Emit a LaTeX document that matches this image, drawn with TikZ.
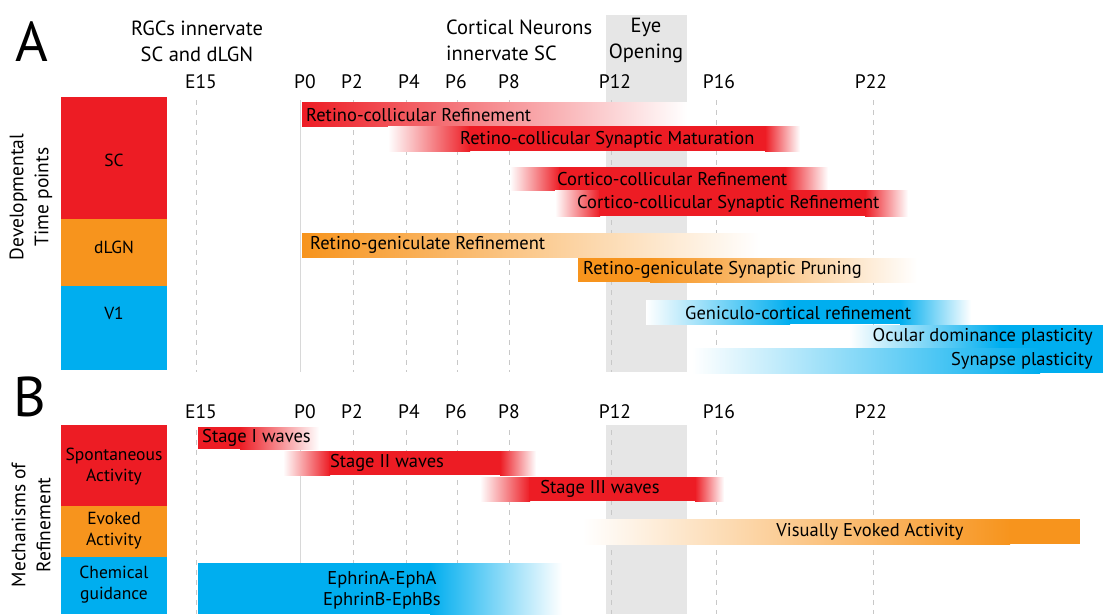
\documentclass[tikz,border=0pt]{standalone}
\usepackage{fontspec}
\setmainfont{PT Sans}
\usetikzlibrary{positioning}

\definecolor{scrot}{HTML}{ED1C24}
\definecolor{lgnorange}{HTML}{F7941D}
\definecolor{vblau}{HTML}{00AEEF}
\definecolor{augengrau}{HTML}{E6E6E6}
\definecolor{rastergrau}{HTML}{C8C8C8}

% Balkenstuecke: x1, x2, y1, y2, Farbe
\newcommand{\einblenden}[5]{\shade [left color=white, right color=#5] (#1,#3) rectangle (#2,#4);}
\newcommand{\ausblenden}[5]{\shade [left color=#5, right color=white] (#1,#3) rectangle (#2,#4);}
\newcommand{\voll}[5]{\fill [#5] (#1,#3) rectangle (#2,#4);}

\tikzset{
  raster/.style={rastergrau, line width=0.8pt, dash pattern=on 5pt off 5pt},
  nullinie/.style={rastergrau!70, line width=0.8pt},
  balkentext/.style={font=\fontsize{18.5}{21}\selectfont, inner sep=0pt},
  tagtext/.style={font=\fontsize{19.5}{22}\selectfont, inner sep=0pt},
  kopftext/.style={font=\fontsize{20.5}{26}\selectfont, inner sep=0pt, align=center},
  kastentext/.style={font=\fontsize{17.5}{21}\selectfont, inner sep=0pt, align=center},
  seitentext/.style={font=\fontsize{19.5}{25}\selectfont, inner sep=0pt, align=center, rotate=90},
  buchstabe/.style={font=\fontsize{56}{56}\selectfont, inner sep=0pt}
}

\begin{document}
\begin{tikzpicture}[x=1pt, y=-1pt]
\useasboundingbox (0,0) rectangle (1103,614);
% Augenoeffnung
\fill [augengrau] (606,15) rectangle (687,372);
\fill [augengrau] (606,425) rectangle (687,614);
% Raster A
\draw [raster] (196,100) -- (196,372);
\draw [nullinie] (300,100) -- (300,372);
\draw [raster] (353,100) -- (353,372);
\draw [raster] (406,100) -- (406,372);
\draw [raster] (457,100) -- (457,372);
\draw [raster] (509,100) -- (509,372);
\draw [raster] (611,100) -- (611,372);
\draw [raster] (716,100) -- (716,372);
\draw [raster] (873,100) -- (873,372);
% Raster B
\draw [raster] (196,430) -- (196,614);
\draw [nullinie] (300,430) -- (300,614);
\draw [raster] (353,430) -- (353,614);
\draw [raster] (406,430) -- (406,614);
\draw [raster] (457,430) -- (457,614);
\draw [raster] (509,430) -- (509,614);
\draw [raster] (611,430) -- (611,614);
\draw [raster] (716,430) -- (716,614);
\draw [raster] (873,430) -- (873,614);
% Kopf A
\node [buchstabe] (la) at (32,42) {A};
\node [kopftext] (rgc) at (197,41) {RGCs innervate\\SC and dLGN};
\node [kopftext, align=left, anchor=west] (cort) at (446,40) {Cortical Neurons\\innervate SC};
\node [kopftext] (eye) at (646,40) {Eye\\Opening};
% Tage A
\node [tagtext] (aE15) at (201,82) {E15};
\node [tagtext] (aP0) at (305,82) {P0};
\node [tagtext] (aP2) at (352,82) {P2};
\node [tagtext] (aP4) at (409,82) {P4};
\node [tagtext] (aP6) at (456,82) {P6};
\node [tagtext] (aP8) at (509,82) {P8};
\node [tagtext] (aP12) at (615,82) {P12};
\node [tagtext] (aP16) at (719,82) {P16};
\node [tagtext] (aP22) at (871,82) {P22};
% Kaesten A
\fill [scrot] (61,97) rectangle (167,219);
\fill [lgnorange] (61,219) rectangle (167,286);
\fill [vblau] (61,286) rectangle (167,370);
\node [kastentext] (sc) at (114,160) {SC};
\node [kastentext] (dlgn) at (114,247) {dLGN};
\node [kastentext] (vone) at (114,313) {V1};
\node [seitentext] (devt) at (31,197) {Developmental\\Time points};
% Balken SC
\ausblenden{302}{687}{102}{126}{scrot}
\node [balkentext, anchor=west] (rcref) at (306,115) {Retino-collicular Refinement};
\einblenden{388}{470}{126}{151}{scrot}
\voll{469}{766}{126}{151}{scrot}
\ausblenden{765}{800}{126}{151}{scrot}
\node [balkentext, anchor=west] (rcmat) at (460,140) {Retino-collicular Synaptic Maturation};
\einblenden{510}{560}{167}{190}{scrot}
\voll{559}{786}{167}{190}{scrot}
\ausblenden{785}{828}{167}{190}{scrot}
\node [balkentext, anchor=west] (ccref) at (557,179) {Cortico-collicular Refinement};
\einblenden{555}{600}{190}{216}{scrot}
\voll{599}{866}{190}{216}{scrot}
\ausblenden{865}{908}{190}{216}{scrot}
\node [balkentext, anchor=west] (ccsyn) at (577,204) {Cortico-collicular Synaptic Refinement};
% Balken dLGN
\ausblenden{302}{760}{233}{257}{lgnorange}
\node [balkentext, anchor=west] (rgref) at (310,245) {Retino-geniculate Refinement};
\voll{578}{651}{258}{282}{lgnorange}
\ausblenden{650}{917}{258}{282}{lgnorange}
\node [balkentext, anchor=west] (rgprun) at (583,270) {Retino-geniculate Synaptic Pruning};
% Balken V1
\einblenden{646}{790}{300}{324}{vblau}
\voll{789}{901}{300}{324}{vblau}
\ausblenden{900}{971}{300}{324}{vblau}
\node [balkentext, anchor=west] (gcref) at (685,313) {Geniculo-cortical refinement};
\einblenden{849}{1000}{325}{348}{vblau}
\voll{999}{1103}{325}{348}{vblau}
\node [balkentext, anchor=east] (odp) at (1093,337) {Ocular dominance plasticity};
\einblenden{692}{1040}{348}{373}{vblau}
\voll{1039}{1103}{348}{373}{vblau}
\node [balkentext, anchor=east] (synp) at (1093,361) {Synapse plasticity};
% Kopf B
\node [buchstabe] (lb) at (30,397) {B};
\node [tagtext] (bE15) at (201,412) {E15};
\node [tagtext] (bP0) at (305,412) {P0};
\node [tagtext] (bP2) at (352,412) {P2};
\node [tagtext] (bP4) at (409,412) {P4};
\node [tagtext] (bP6) at (456,412) {P6};
\node [tagtext] (bP8) at (509,412) {P8};
\node [tagtext] (bP12) at (615,412) {P12};
\node [tagtext] (bP16) at (719,412) {P16};
\node [tagtext] (bP22) at (871,412) {P22};
% Kaesten B
\fill [scrot] (61,425) rectangle (167,506);
\fill [lgnorange] (61,506) rectangle (167,557);
\fill [vblau] (61,557) rectangle (167,614);
\node [kastentext] (spont) at (114,467) {Spontaneous\\Activity};
\node [kastentext] (evok) at (114,531) {Evoked\\Activity};
\node [kastentext] (chem) at (114,585) {Chemical\\guidance};
\node [seitentext] (mech) at (31,525) {Mechanisms of\\Refinement};
% Balken B
\voll{198}{241}{427}{449}{scrot}
\ausblenden{240}{319}{427}{449}{scrot}
\node [balkentext, anchor=west] (st1) at (202,438) {Stage I waves};
\einblenden{283}{330}{451}{475}{scrot}
\voll{329}{501}{451}{475}{scrot}
\ausblenden{500}{536}{451}{475}{scrot}
\node [balkentext] (st2) at (387,463) {Stage II waves};
\einblenden{480}{530}{477}{501}{scrot}
\voll{529}{696}{477}{501}{scrot}
\ausblenden{695}{724}{477}{501}{scrot}
\node [balkentext] (st3) at (600,489) {Stage III waves};
\einblenden{583}{1010}{519}{544}{lgnorange}
\voll{1009}{1080}{519}{544}{lgnorange}
\node [balkentext] (vea) at (870,532) {Visually Evoked Activity};
\voll{198}{431}{563}{614}{vblau}
\ausblenden{430}{562}{563}{614}{vblau}
\node [balkentext, align=center, font=\fontsize{18.5}{21}\selectfont] (ephrin) at (382,590) {EphrinA-EphA\\EphrinB-EphBs};
\end{tikzpicture}
\end{document}
